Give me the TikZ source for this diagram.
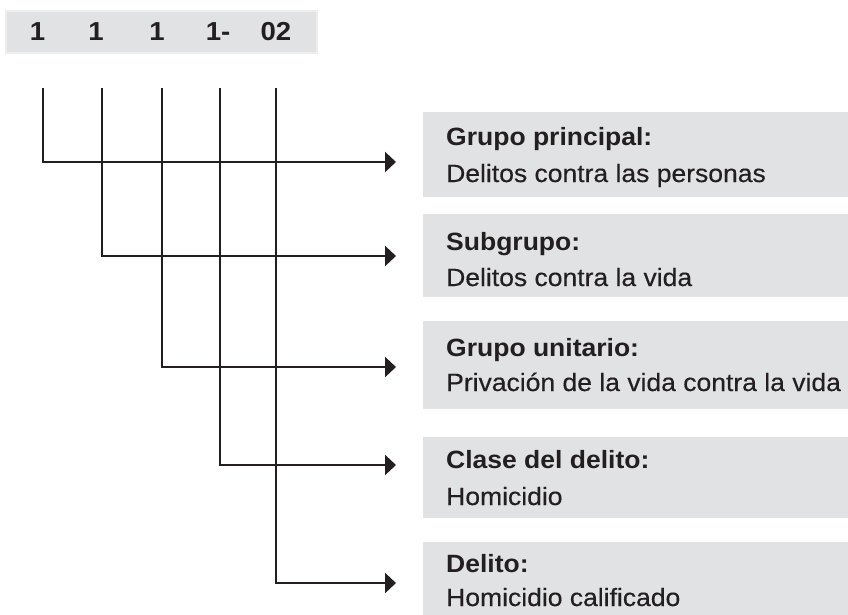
\documentclass[tikz,border=0pt]{standalone}
\usepackage{fontspec}
\setmainfont{Liberation Sans}[FakeStretch=1.06]
\newfontfamily\descfont{Liberation Sans}[FakeStretch=1.06, FakeBold=0.35]
\usetikzlibrary{arrows.meta}
\definecolor{boxgray}{HTML}{E1E2E3}
\definecolor{boxedge}{HTML}{EEEEEE}
\definecolor{ink}{HTML}{231F20}
\tikzset{
  infobox/.style={fill=boxgray, draw=none, anchor=north west, minimum width=440pt, inner sep=0pt},
  headbox/.style={fill=boxgray, draw=boxedge, line width=2pt, anchor=north west, minimum width=311pt, minimum height=42pt, inner sep=0pt},
  digit/.style={text=ink, font=\fontsize{26}{26}\selectfont\bfseries, anchor=base, inner sep=0pt},
  title/.style={text=ink, font=\fontsize{25}{25}\selectfont\bfseries, anchor=base west, inner sep=0pt},
  desc/.style={text=ink, font=\fontsize{25}{25}\descfont, anchor=base west, inner sep=0pt},
  link/.style={draw=ink, line width=2.3pt, -{Triangle[length=11pt,width=20pt]}}
}
\begin{document}
\begin{tikzpicture}[x=1pt,y=-1pt]
\useasboundingbox (0,0) rectangle (848,614);
% header
\node[headbox] (hb) at (5,10) {};
\node[digit] (d1) at (37.5,40) {1};
\node[digit] (d2) at (96,40) {1};
\node[digit] (d3) at (157,40) {1};
\node[digit] (d4) at (218,40) {1-};
\node[digit] (d5) at (276,40) {02};
% boxes
\node[infobox, minimum height=85pt] (b1) at (423,112) {};
\node[infobox, minimum height=83pt] (b2) at (423,214) {};
\node[infobox, minimum height=88pt] (b3) at (423,321) {};
\node[infobox, minimum height=81pt] (b4) at (423,437) {};
\node[infobox, minimum height=85pt] (b5) at (423,542) {};
% texts
\node[title] (t1) at (446,145) {Grupo principal:};
\node[desc] (s1) at (446,182) {Delitos contra las personas};
\node[title] (t2) at (446,250) {Subgrupo:};
\node[desc] (s2) at (446,286) {Delitos contra la vida};
\node[title] (t3) at (446,356) {Grupo unitario:};
\node[desc] (s3) at (446,391) {Privación de la vida contra la vida};
\node[title] (t4) at (446,468) {Clase del delito:};
\node[desc] (s4) at (446,505) {Homicidio};
\node[title] (t5) at (446,572) {Delito:};
\node[desc] (s5) at (446,606) {Homicidio calificado};
% connector ends
\coordinate (a1) at (43,88);
\coordinate (a2) at (102,88);
\coordinate (a3) at (162,88);
\coordinate (a4) at (220,88);
\coordinate (a5) at (276,88);
\coordinate (e1) at (396,162);
\coordinate (e2) at (396,256);
\coordinate (e3) at (396,367);
\coordinate (e4) at (396,465);
\coordinate (e5) at (396,583);
\draw[link] (a1) |- (e1);
\draw[link] (a2) |- (e2);
\draw[link] (a3) |- (e3);
\draw[link] (a4) |- (e4);
\draw[link] (a5) |- (e5);
\end{tikzpicture}
\end{document}
